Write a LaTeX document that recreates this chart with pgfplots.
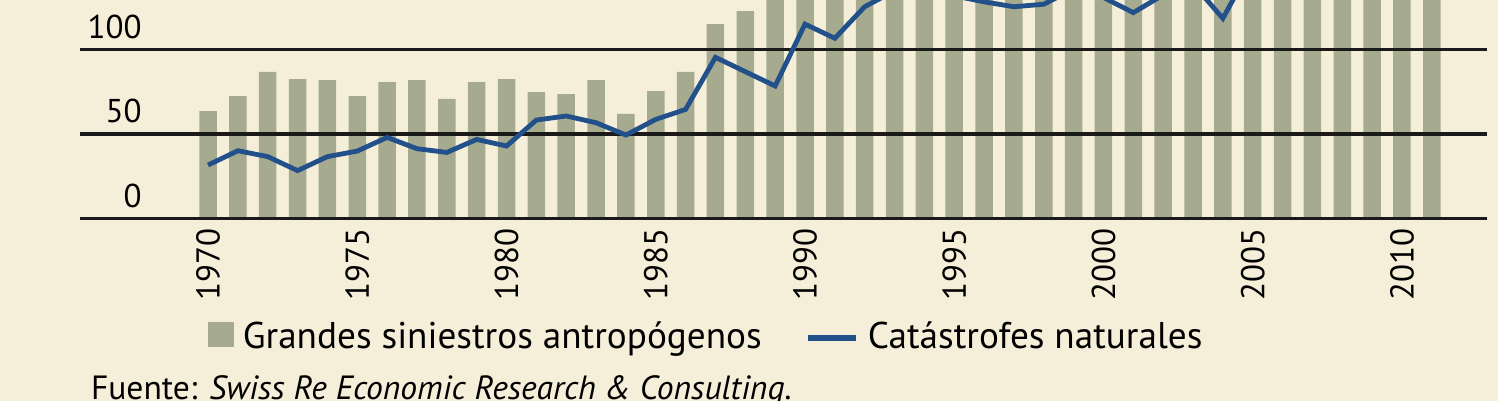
\documentclass[border=0pt]{standalone}
\usepackage{fontspec}
\setmainfont{PT Sans}
\usepackage{pgfplots}
\pgfplotsset{compat=1.18}

\definecolor{bgcol}{HTML}{F5EFDA}
\definecolor{barcol}{HTML}{A6AA8E}
\definecolor{linecol}{HTML}{22508A}
\definecolor{gridcol}{HTML}{1A1A1A}

\newcommand{\chartfont}{\fontsize{16.5}{18}\selectfont}
\newcommand{\legfont}{\fontsize{18.6}{20}\selectfont}

\begin{document}
\begin{tikzpicture}
  \useasboundingbox (0,0) rectangle (749pt,200.5pt);
  \clip (0,0) rectangle (749pt,200.5pt);
  \fill[bgcol] (0,0) rectangle (749pt,200.5pt);

  \begin{axis}[
      at={(40pt,88.8pt)}, anchor=south west,
      width=703.5pt, height=111.7pt, scale only axis,
      xmin=1965.71, xmax=2012.85, ymin=-3, ymax=129.5,
      axis line style={draw=none},
      major tick length=0pt,
      xtick={1970,1975,...,2010}, ytick={0,50,100},
      /pgf/number format/.cd, 1000 sep={}, assume math mode=true,
      /pgfplots/.cd,
      ticklabel style={font=\chartfont},
      xticklabel style={rotate=90, anchor=east, inner ysep=0pt, inner xsep=2.3pt},
      yticklabel style={anchor=south east, inner sep=0pt, xshift=31pt, yshift=5.2pt},
      legend columns=2,
      legend style={at={(0.0906,-0.508)}, anchor=west, draw=none, fill=none,
        font=\legfont, inner sep=0pt, row sep=0pt,
        nodes={inner sep=0pt},
        /tikz/every odd column/.append style={column sep=4.5pt},
        /tikz/every even column/.append style={column sep=22pt}},
    ]

    % grandes siniestros antropogenos (bars above 129.5 are cut off in the source)
    \addplot[ybar, bar width=8.75pt, fill=barcol, draw=none,
      legend image code/.code={\fill[barcol] (0pt,-5pt) rectangle (13pt,7.5pt);}]
      coordinates {
        (1970,63.6) (1971,72.5) (1972,86.8) (1973,82.6) (1974,82.0)
        (1975,72.5) (1976,80.8) (1977,82.0) (1978,70.8) (1979,80.8)
        (1980,82.6) (1981,74.9) (1982,73.7) (1983,82.0) (1984,61.9)
        (1985,75.5) (1986,86.8) (1987,115.2) (1988,122.9) (1989,140)
        (1990,155) (1991,150) (1992,160) (1993,165) (1994,170)
        (1995,175) (1996,180) (1997,185) (1998,190) (1999,200)
        (2000,195) (2001,200) (2002,190) (2003,195) (2004,190)
        (2005,150) (2006,197) (2007,193) (2008,174) (2009,155)
        (2010,138) (2011,150)
      };
    \addlegendentry{Grandes siniestros antropógenos}

    % horizontal rules, over the bars, under the line
    \addplot[gridcol, line width=1.65pt, forget plot] coordinates {(1965.71,0) (2012.85,0)};
    \addplot[gridcol, line width=1.65pt, forget plot] coordinates {(1965.71,50) (2012.85,50)};
    \addplot[gridcol, line width=1.65pt, forget plot] coordinates {(1965.71,100) (2012.85,100)};

    % catastrofes naturales
    \addplot[linecol, line width=2.4pt,
      legend image code/.code={\draw[linecol, line width=2.6pt] (0pt,-0.5pt) -- (24pt,-0.5pt);}]
      coordinates {
        (1970,31.6) (1971,40.1) (1972,36.6) (1973,28.3) (1974,36.6)
        (1975,39.9) (1976,48.0) (1977,41.3) (1978,39.1) (1979,46.8)
        (1980,42.9) (1981,58.3) (1982,60.7) (1983,56.7) (1984,49.4)
        (1985,58.7) (1986,64.6) (1987,95.5) (1988,87.0) (1989,78.5)
        (1990,115.2) (1991,106.8) (1992,125.5) (1993,135) (1994,140)
        (1995,132) (1996,128.4) (1997,125.5) (1998,127) (1999,136)
        (2000,131) (2001,122) (2002,132.5) (2003,139) (2004,118.6)
        (2005,151) (2006,140) (2007,150) (2008,145) (2009,140)
        (2010,167) (2011,175)
      };
    \addlegendentry{Catástrofes naturales}
  \end{axis}

  \node[anchor=base west, inner sep=0pt, font=\fontsize{16.8}{18}\selectfont] at (45.3pt,0.75pt)
    {Fuente: \textit{Swiss Re Economic Research \& Consulting}.};
\end{tikzpicture}
\end{document}
